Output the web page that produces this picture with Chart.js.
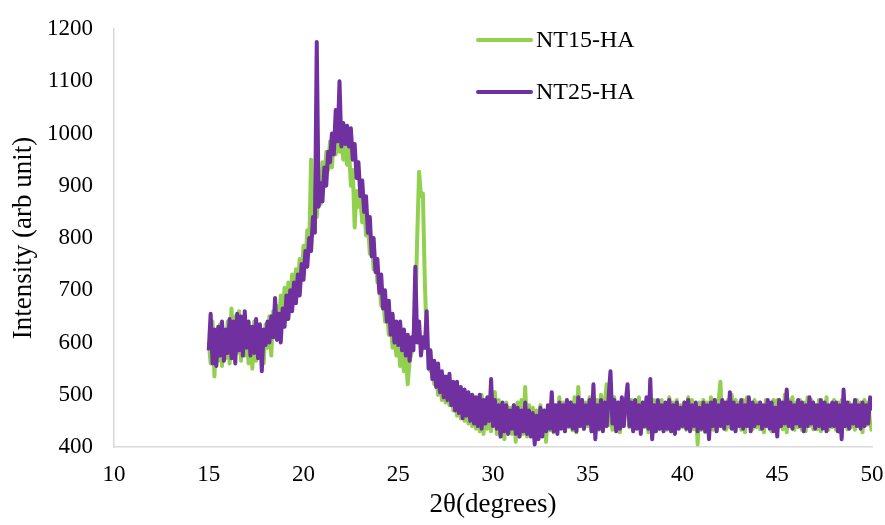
<!DOCTYPE html>
<html>
<head>
<meta charset="utf-8">
<script src="https://cdn.jsdelivr.net/npm/chart.js@4/dist/chart.umd.min.js"></script>
<style>
    body { margin: 0; background: #fff; }
    #wrap { width: 885px; height: 525px; }
</style>
</head>
<body>
<div id="wrap"><canvas id="xrdChart" width="885" height="525"></canvas></div>
<script>
// 2θ scan: 15.0 .. 50.0 deg, 0.1 deg step
const scanStart = 15;
const scanStep = 0.1;

const xTicks = [10, 15, 20, 25, 30, 35, 40, 45, 50];
const yTicks = [400, 500, 600, 700, 800, 900, 1000, 1100, 1200];

const seriesLabels = ['NT15-HA', 'NT25-HA'];

// NT15-HA intensity, one row per degree
const nt15 = [
    600, 560, 640, 535, 620, 565, 635, 555, 625, 570,
    640, 560, 665, 570, 650, 580, 660, 565, 640, 575,
    635, 560, 625, 550, 640, 565, 630, 575, 620, 560,
    635, 590, 650, 575, 660, 610, 670, 625, 690, 640,
    705, 650, 715, 670, 730, 690, 740, 705, 760, 720,
    785, 750, 815, 780, 950, 820, 870, 840, 900, 865,
    945, 905, 965, 930, 985, 935, 1000, 960, 995, 965,
    990, 950, 980, 940, 970, 900, 930, 820, 890, 860,
    875, 830, 860, 805, 830, 770, 790, 740, 760, 715,
    720, 670, 690, 640, 665, 615, 640, 590, 620, 575,
    605, 555, 590, 545, 575, 520, 565, 580, 610, 650,
    800, 927, 880, 885, 720, 605, 575, 545, 560, 520,
    550, 500, 540, 490, 535, 485, 530, 480, 520, 470,
    515, 460, 510, 455, 505, 450, 500, 445, 495, 440,
    495, 435, 490, 430, 500, 425, 490, 435, 485, 430,
    480, 505, 425, 490, 420, 480, 415, 485, 430, 475,
    425, 480, 410, 485, 420, 490, 425, 515, 420, 480,
    430, 475, 415, 470, 420, 480, 425, 470, 410, 475,
    432, 490, 428, 480, 435, 495, 438, 485, 430, 480,
    438, 485, 432, 495, 428, 515, 440, 490, 434, 485,
    440, 495, 430, 480, 438, 490, 433, 500, 440, 485,
    520, 442, 490, 433, 495, 438, 485, 428, 490, 440,
    480, 500, 438, 490, 432, 485, 440, 495, 433, 485,
    438, 490, 428, 485, 420, 490, 440, 485, 434, 490,
    440, 480, 433, 495, 438, 485, 430, 490, 440, 480,
    438, 485, 433, 495, 440, 490, 434, 480, 405, 485,
    433, 490, 428, 485, 440, 495, 433, 490, 430, 485,
    525, 440, 485, 433, 490, 438, 500, 434, 490, 440,
    485, 433, 490, 428, 495, 440, 485, 434, 490, 438,
    485, 434, 480, 428, 490, 440, 485, 430, 490, 433,
    490, 438, 485, 434, 500, 428, 490, 440, 495, 433,
    485, 438, 490, 433, 485, 430, 495, 440, 490, 434,
    480, 434, 490, 430, 485, 440, 495, 433, 480, 438,
    490, 433, 485, 428, 490, 440, 480, 434, 485, 438,
    480, 433, 490, 440, 485, 428, 490, 442, 485, 445,
    430
];

// NT25-HA intensity, one row per degree
const nt25 = [
    585, 655, 560, 625, 555, 630, 575, 640, 565, 625,
    580, 645, 570, 640, 560, 655, 585, 650, 575, 660,
    590, 640, 575, 630, 580, 645, 570, 635, 545, 625,
    595, 640, 600, 650, 610, 685, 605, 655, 600, 665,
    630, 690, 645, 700, 660, 715, 675, 730, 690, 750,
    720, 775, 745, 800, 775, 840, 810, 1175, 860, 905,
    870, 935, 900, 965, 945, 1000, 960, 1045, 985, 1100,
    975, 1020, 980, 1015, 975, 1010, 950, 980, 915, 945,
    880, 910, 850, 880, 810, 840, 765, 800, 735, 760,
    695, 730, 665, 700, 640, 680, 615, 655, 600, 640,
    595, 640, 585, 625, 575, 615, 565, 610, 585, 745,
    600, 640, 575, 610, 590, 660, 550, 585, 530, 565,
    515, 560, 505, 545, 495, 535, 490, 540, 480, 525,
    470, 525, 465, 515, 455, 510, 460, 505, 450, 500,
    445, 495, 440, 500, 435, 490, 445, 495, 450, 530,
    440, 490, 435, 480, 420, 485, 430, 480, 425, 470,
    435, 480, 425, 475, 420, 470, 430, 485, 425, 470,
    420, 465, 405, 460, 415, 475, 420, 470, 430, 480,
    435, 505, 430, 480, 425, 485, 435, 480, 430, 490,
    440, 485, 435, 480, 430, 495, 440, 490, 435, 480,
    445, 490, 430, 520, 415, 480, 435, 490, 430, 485,
    440, 495, 545, 445, 490, 430, 485, 435, 495, 440,
    485, 520, 440, 485, 430, 490, 435, 480, 425, 485,
    440, 495, 435, 530, 415, 480, 430, 490, 435, 480,
    430, 485, 435, 490, 430, 480, 425, 485, 435, 475,
    440, 485, 435, 490, 430, 480, 440, 485, 430, 475,
    435, 485, 430, 480, 415, 485, 440, 490, 430, 480,
    440, 490, 435, 485, 445, 505, 435, 485, 430, 480,
    440, 490, 435, 480, 440, 495, 430, 485, 440, 480,
    445, 485, 435, 480, 440, 490, 435, 485, 430, 475,
    420, 490, 440, 485, 445, 510, 440, 485, 435, 480,
    445, 490, 440, 485, 430, 480, 440, 495, 445, 485,
    435, 480, 440, 490, 435, 485, 430, 480, 440, 485,
    440, 485, 430, 480, 415, 510, 440, 485, 435, 480,
    445, 490, 440, 480, 435, 485, 440, 480, 445, 495,
    470
];

const seriesColors = ['#92D050', '#7030A0'];

function toPoints(values) {
    return values.map((v, i) => ({ x: +(scanStart + i * scanStep).toFixed(1), y: v }));
}

// legend drawn as two stacked rows to the right of the peaks
const stackedLegend = {
    id: 'stackedLegend',
    afterDraw(chart) {
        const ctx = chart.ctx;
        const left = chart.chartArea.left + 364;
        const rows = [40, 92];
        ctx.save();
        chart.data.datasets.forEach((ds, i) => {
            const y = rows[i];
            ctx.strokeStyle = ds.borderColor;
            ctx.lineWidth = 4;
            ctx.lineCap = 'round';
            ctx.beginPath();
            ctx.moveTo(left, y);
            ctx.lineTo(left + 53, y);
            ctx.stroke();
            ctx.fillStyle = '#000';
            ctx.font = '24px "Liberation Serif", "Times New Roman", serif';
            ctx.textBaseline = 'middle';
            ctx.fillText(ds.label, left + 58, y + 1);
        });
        ctx.restore();
    }
};

const serif = '"Liberation Serif", "Times New Roman", serif';

new Chart(document.getElementById('xrdChart'), {
    type: 'line',
    data: {
        datasets: [
            {
                label: seriesLabels[0],
                data: toPoints(nt15),
                borderColor: seriesColors[0],
                borderWidth: 4,
                pointRadius: 0,
                tension: 0,
                borderJoinStyle: 'round',
                order: 2
            },
            {
                label: seriesLabels[1],
                data: toPoints(nt25),
                borderColor: seriesColors[1],
                borderWidth: 4,
                pointRadius: 0,
                tension: 0,
                borderJoinStyle: 'round',
                order: 1
            }
        ]
    },
    options: {
        responsive: false,
        animation: false,
        layout: { padding: { left: 0, right: 13, top: 29, bottom: 0 } },
        plugins: { legend: { display: false }, tooltip: { enabled: false } },
        scales: {
            x: {
                type: 'linear',
                min: xTicks[0],
                max: xTicks[xTicks.length - 1],
                afterBuildTicks: s => { s.ticks = xTicks.map(v => ({ value: v })); },
                afterFit: s => { s.height = 78; s.paddingLeft = 0; s.paddingRight = 0; },
                grid: { display: false, drawTicks: false },
                border: { color: '#D9D9D9', width: 1.5 },
                ticks: { color: '#000', padding: 14, font: { family: serif, size: 23 }, callback: v => String(v) },
                title: {
                    display: true,
                    text: '2θ(degrees)',
                    color: '#000',
                    padding: { top: 10 },
                    font: { family: serif, size: 27 }
                }
            },
            y: {
                min: yTicks[0],
                max: yTicks[yTicks.length - 1],
                afterBuildTicks: s => { s.ticks = yTicks.map(v => ({ value: v })); },
                afterFit: s => { s.width = 114; s.paddingTop = 0; s.paddingBottom = 0; },
                grid: { display: false, drawTicks: false },
                border: { color: '#D9D9D9', width: 1.5 },
                ticks: { color: '#000', padding: 21, font: { family: serif, size: 23 }, callback: v => String(v) },
                title: {
                    display: true,
                    text: 'Intensity (arb unit)',
                    color: '#000',
                    padding: { top: 8, bottom: 0 },
                    font: { family: serif, size: 27 }
                }
            }
        }
    },
    plugins: [stackedLegend]
});
</script>
</body>
</html>
